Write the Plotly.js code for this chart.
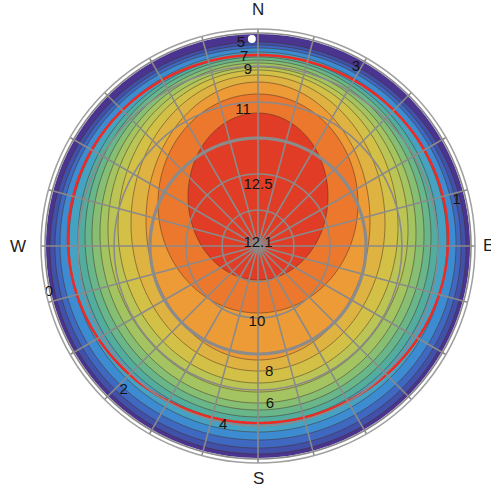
<!DOCTYPE html>
<html><head><meta charset="utf-8">
<script src="https://cdn.plot.ly/plotly-3.0.1.min.js"></script>
<style>html,body{margin:0;padding:0;background:#fff}#chart{width:491px;height:491px}</style>
</head><body><div id="chart"></div>
<script>
// ---- data (radii in plot units, outer horizon = 217) ----
// filled bands, outermost first; each band's outer edge given by its
// north radius, south radius and half-width (east/west)
const bandColors = ['#4a3490','#4151aa','#3f69c0','#3d8bd0','#46a2c2','#53ad9f','#69b68a','#86be74','#a3c461','#bbc555','#d2c047','#dfb342','#ec9b37','#ec782d','#e13d26'];
const bandRN = [212, 204, 201, 198, 194, 191, 189, 186, 183, 179, 176, 171, 164, 152, 133];
const bandRS = [212, 208, 202, 194, 186, 177, 171, 164, 157, 146, 137, 125, 114, 67, 34];
const bandRW = [212, 208, 203, 198, 189, 180, 173, 166, 158, 150, 140, 127, 112, 100, 70];
// red reference line
const redRN = [191];
const redRS = [177];
const redRW = [190];
// contour labels
const labelText  = ['12.1', '12.5', '11', '9', '7', '5', '3', '1', '10', '8', '6', '4', '2', '0'];
const labelR     = [3, 61, 137, 176, 189, 203, 204, 204, 76, 127, 159, 183, 197, 214];
const labelTheta = [0, 0, 353.7, 356.7, 355.8, 355.2, 28.7, 77, 180.8, 175, 175.7, 191, 223, 257.6];
// compass labels
const compassText  = ['N', 'E', 'S', 'W'];
const compassTheta = [0, 90, 180, 270];
// grid
const gridR = [36, 72, 144, 180, 213];
const thickR = [108];
const spokeStep = 15;
// marker near north
const dotR = [207];
const dotTheta = [358.3];

// ---- geometry helpers ----
const CX = 258, CY = 246, RMAX = 217, W = 491, H = 491;
function ellipseR(rn, rs, a, thDeg) {
  const c = (rn - rs) / 2, b = (rn + rs) / 2;
  const t = thDeg * Math.PI / 180;
  const sx = Math.sin(t), sy = Math.cos(t);
  const al = sx * sx / (a * a) + sy * sy / (b * b);
  const be = -2 * sy * c / (b * b);
  const ga = c * c / (b * b) - 1;
  return (-be + Math.sqrt(be * be - 4 * al * ga)) / (2 * al);
}
const thetas = [];
for (let t = 0; t <= 360; t += 2) thetas.push(t);

const traces = [];
bandColors.forEach((col, i) => {
  traces.push({
    type: 'scatterpolar', subplot: 'polar', mode: 'lines', fill: 'toself',
    r: thetas.map(t => ellipseR(bandRN[i], bandRS[i], bandRW[i], t)),
    theta: thetas, fillcolor: col,
    line: {color: i === 0 ? col : 'rgba(70,45,35,0.55)', width: i === 0 ? 0 : 0.9},
    hoverinfo: 'skip'
  });
});
traces.push({
  type: 'scatterpolar', subplot: 'polar', mode: 'lines',
  r: thetas.map(t => ellipseR(redRN[0], redRS[0], redRW[0], t)),
  theta: thetas, line: {color: '#ee2a24', width: 2.6}, hoverinfo: 'skip'
});
// thick circle on the overlay subplot
traces.push({
  type: 'scatterpolar', subplot: 'polar2', mode: 'lines',
  r: thetas.map(() => thickR[0]), theta: thetas,
  line: {color: '#8b8b8b', width: 3.2}, hoverinfo: 'skip'
});
traces.push({
  type: 'scatterpolar', subplot: 'polar2', mode: 'markers',
  r: dotR, theta: dotTheta,
  marker: {color: '#ffffff', size: 8, line: {width: 0}}, hoverinfo: 'skip'
});
traces.push({
  type: 'scatterpolar', subplot: 'polar2', mode: 'text',
  r: labelR, theta: labelTheta, text: labelText,
  textfont: {family: 'Liberation Sans, Arial, sans-serif', size: 15, color: '#141414'},
  textposition: 'middle center', cliponaxis: false, hoverinfo: 'skip'
});

const spokes = [];
for (let a = 0; a < 360; a += spokeStep) spokes.push(a);

const compassR = [236, 230, 232, 240];
const annotations = compassText.map((txt, i) => {
  const t = compassTheta[i] * Math.PI / 180;
  return {
    xref: 'paper', yref: 'paper', showarrow: false, text: txt,
    x: (CX + compassR[i] * Math.sin(t)) / W,
    y: 1 - (CY - compassR[i] * Math.cos(t)) / H,
    xanchor: 'center', yanchor: 'middle',
    font: {family: 'Liberation Sans, Arial, sans-serif', size: 17, color: '#1e1e1e'}
  };
});

const dom = {x: [(CX - RMAX) / W, (CX + RMAX) / W], y: [1 - (CY + RMAX) / H, 1 - (CY - RMAX) / H]};
const layout = {
  width: W, height: H, margin: {l: 0, r: 0, t: 0, b: 0},
  paper_bgcolor: '#ffffff', showlegend: false,
  polar: {
    domain: dom, bgcolor: '#ffffff',
    radialaxis: {range: [0, RMAX], visible: false, showgrid: false},
    angularaxis: {rotation: 90, direction: 'clockwise', showgrid: false, showline: false,
      showticklabels: false, ticks: ''}
  },
  polar2: {
    domain: dom, bgcolor: 'rgba(0,0,0,0)',
    radialaxis: {range: [0, RMAX], tickvals: gridR, showticklabels: false, ticks: '',
      showline: false, gridcolor: '#8a8a8a', gridwidth: 1.6},
    angularaxis: {rotation: 90, direction: 'clockwise', tickvals: spokes, showticklabels: false,
      ticks: '', gridcolor: '#8a8a8a', gridwidth: 1.6, showline: true, linecolor: '#a0a0a0', linewidth: 1.5}
  },
  annotations: annotations
};
Plotly.newPlot('chart', traces, layout, {staticPlot: true, displayModeBar: false});
</script></body></html>
